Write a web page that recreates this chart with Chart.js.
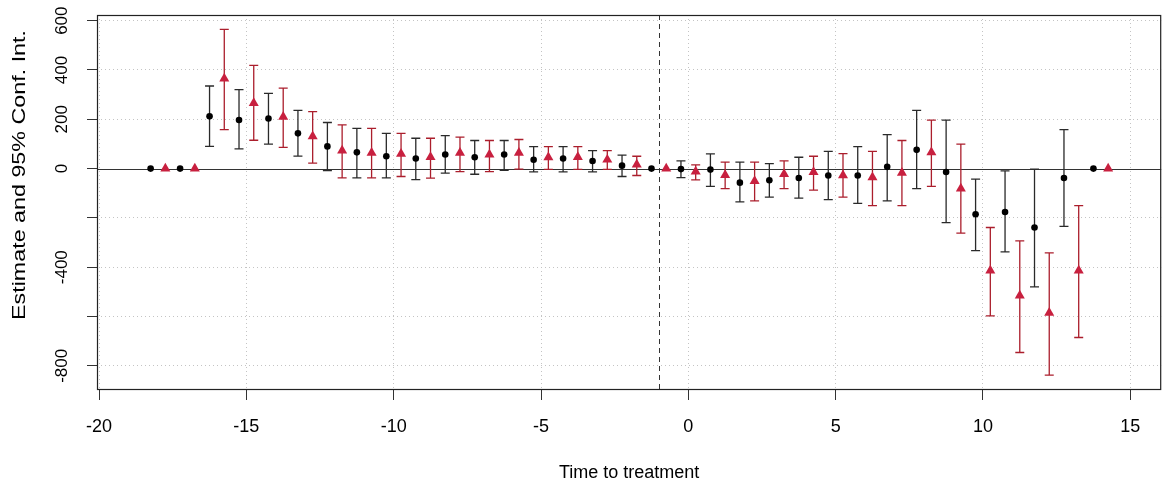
<!DOCTYPE html>
<html>
<head>
<meta charset="utf-8">
<script src="https://cdn.jsdelivr.net/npm/chart.js@4"></script>
<style>
  html, body { margin: 0; padding: 0; background: #fff; }
  #wrap { width: 1167px; height: 486px; }
</style>
</head>
<body>
<div id="wrap"><canvas id="chart" width="1167" height="486"></canvas></div>
<script>
// 기간 (처치까지 시간)
const periods = [-18, -17, -16, -15, -14, -13, -12, -11, -10, -9, -8, -7, -6, -5, -4, -3, -2, -1,
  0, 1, 2, 3, 4, 5, 6, 7, 8, 9, 10, 11, 12, 13, 14];

// 모델 1 (검은 점)
const estA = [0, 0, 212, 197, 203, 143, 90, 66, 50, 41, 57, 46, 57, 36, 41, 31, 12, 0,
  -2, -4, -57, -47, -38, -28, -28, 7, 76, -14, -185, -176, -239, -38, 0];
const hiA = [null, null, 335, 320, 305, 236, 187, 163, 143, 123, 134, 114, 114, 89, 89, 73, 55, null,
  31, 60, 26, 20, 46, 70, 89, 138, 236, 197, -43, -9, -2, 158, null];
const loA = [null, null, 90, 80, 99, 51, -8, -38, -38, -45, -18, -23, -7, -13, -13, -13, -32, null,
  -37, -72, -135, -116, -120, -126, -141, -131, -81, -219, -333, -338, -480, -234, null];

// 모델 2 (빨간 삼각형)
const estB = [0, 0, 365, 266, 210, 131, 73, 64, 60, 47, 64, 57, 64, 46, 47, 36, 16, 0,
  -12, -26, -51, -22, -14, -27, -35, -17, 66, -81, -414, -515, -585, -414, 0];
const hiB = [null, null, 565, 419, 326, 231, 177, 163, 143, 123, 128, 114, 118, 89, 89, 73, 50, null,
  15, 26, 26, 31, 50, 61, 70, 114, 197, 99, -239, -293, -342, -150, null];
const loB = [null, null, 158, 115, 86, 22, -38, -38, -32, -39, -12, -12, -2, -3, -3, -3, -28, null,
  -46, -81, -131, -81, -87, -116, -150, -150, -72, -262, -597, -746, -838, -685, null];

const refPeriod = -1;
const hiddenYLabels = [-200, -600];

const FONT = '"Liberation Sans", Arial, sans-serif';
const colA = '#000000', barA = '#2a2a2a';
const colB = '#c8203f', barB = '#ab1e2c';

const pointsA = periods.map((t, i) => ({ x: t - 0.25, y: estA[i] }));
const pointsB = periods.map((t, i) => ({ x: t + 0.25, y: estB[i] }));

// 오차 막대, 기준선, 테두리, 축 제목
const decor = {
  id: 'decor',
  beforeDatasetsDraw(chart) {
    const { ctx, chartArea: a, scales: { x, y } } = chart;
    ctx.save();
    ctx.setLineDash([]);
    // 0 기준선
    const y0 = Math.round(y.getPixelForValue(0)) + 0.5;
    ctx.strokeStyle = '#333';
    ctx.lineWidth = 1.2;
    ctx.beginPath(); ctx.moveTo(a.left, y0); ctx.lineTo(a.right, y0); ctx.stroke();
    // 처치 시점 점선
    const xr = Math.round(x.getPixelForValue(refPeriod)) + 0.5;
    ctx.lineWidth = 1;
    ctx.setLineDash([5, 4]);
    ctx.beginPath(); ctx.moveTo(xr, a.top); ctx.lineTo(xr, a.bottom); ctx.stroke();
    ctx.setLineDash([]);

    const bars = (pts, lo, hi, color) => {
      ctx.strokeStyle = color;
      ctx.lineWidth = 1.3;
      pts.forEach((p, i) => {
        if (lo[i] === null) return;
        const px = x.getPixelForValue(p.x);
        const pl = y.getPixelForValue(lo[i]);
        const ph = y.getPixelForValue(hi[i]);
        ctx.beginPath();
        ctx.moveTo(px, pl); ctx.lineTo(px, ph);
        ctx.moveTo(px - 4.5, pl); ctx.lineTo(px + 4.5, pl);
        ctx.moveTo(px - 4.5, ph); ctx.lineTo(px + 4.5, ph);
        ctx.stroke();
      });
    };
    bars(pointsA, loA, hiA, barA);
    bars(pointsB, loB, hiB, barB);
    ctx.restore();
  },
  afterDraw(chart) {
    const { ctx, chartArea: a, scales: { y } } = chart;
    ctx.save();
    ctx.setLineDash([]);
    ctx.strokeStyle = '#222';
    ctx.lineWidth = 1.2;
    ctx.strokeRect(a.left + 0.5, a.top + 0.5, a.right - a.left - 1, a.bottom - a.top - 1);

    ctx.fillStyle = '#000';
    ctx.textAlign = 'center';
    ctx.textBaseline = 'middle';
    // y 눈금 글자 (세로)
    ctx.font = '17px ' + FONT;
    y.ticks.forEach(tk => {
      if (hiddenYLabels.includes(tk.value)) return;
      const py = y.getPixelForValue(tk.value);
      ctx.save();
      ctx.translate(62, py);
      ctx.rotate(-Math.PI / 2);
      ctx.fillText(String(tk.value), 0, 0);
      ctx.restore();
    });

    // 축 제목
    ctx.font = '18px ' + FONT;
    ctx.fillText('Time to treatment', (a.left + a.right) / 2, 473);

    const yTitle = 'Estimate and 95% Conf. Int.';
    ctx.font = '18px ' + FONT;
    const w = ctx.measureText(yTitle).width;
    ctx.translate(20, 175);
    ctx.rotate(-Math.PI / 2);
    ctx.scale(290 / w, 1);
    ctx.fillText(yTitle, 0, 0);
    ctx.restore();
  }
};

new Chart(document.getElementById('chart'), {
  type: 'scatter',
  data: {
    datasets: [
      { data: pointsA, pointStyle: 'circle', pointRadius: 3.3, backgroundColor: colA, borderWidth: 0 },
      { data: pointsB, pointStyle: 'triangle', pointRadius: 5.8, backgroundColor: colB, borderWidth: 0 }
    ]
  },
  plugins: [decor],
  options: {
    responsive: false,
    animation: false,
    layout: { padding: { top: 15, right: 2, left: 0, bottom: 0 } },
    plugins: { legend: { display: false }, tooltip: { enabled: false } },
    scales: {
      x: {
        type: 'linear',
        min: -20.07,
        max: 16.05,
        ticks: { stepSize: 5, includeBounds: false, color: '#000', font: { size: 18, family: FONT }, padding: 16, maxRotation: 0 },
        grid: { color: '#c4c4c4', lineWidth: 1, tickLength: 10, tickColor: '#333', tickWidth: 1 },
        border: { display: false, dash: [1, 3] },
        afterFit: s => { s.height = 96; }
      },
      y: {
        min: -898,
        max: 623,
        ticks: { stepSize: 200, includeBounds: false, display: false },
        grid: {
          color: c => (c.tick && c.tick.value === 0 ? 'rgba(0,0,0,0)' : '#c4c4c4'),
          lineWidth: 1, tickLength: 10, tickColor: '#333', tickWidth: 1
        },
        border: { display: false, dash: [1, 3] },
        afterFit: s => { s.width = 97; }
      }
    }
  }
});
</script>
</body>
</html>
